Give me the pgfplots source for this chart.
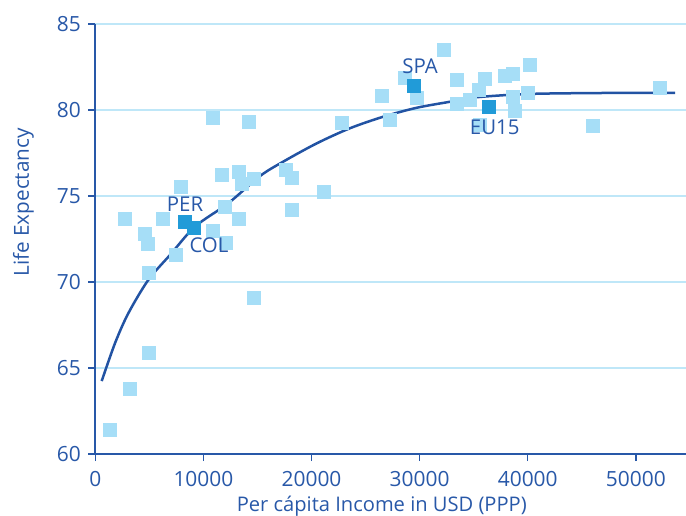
\documentclass[border=0pt]{standalone}
\usepackage{fontspec}
\setmainfont{Open Sans}
\usepackage{pgfplots}
\pgfplotsset{compat=1.18}

\definecolor{navy}{HTML}{2858A8}
\definecolor{gridblue}{HTML}{BFE7F8}
\definecolor{ptlight}{HTML}{A6DEF7}
\definecolor{ptdark}{HTML}{219BD8}
\definecolor{trend}{HTML}{2253A3}

\begin{document}
\begin{tikzpicture}
\path[use as bounding box] (-95.3bp,-62bp) rectangle (590.7bp,454bp);
\begin{axis}[
  scale only axis, width=590.7bp, height=430bp,
  xmin=0, xmax=54640, ymin=60, ymax=85,
  axis x line*=bottom, axis y line*=left,
  axis line style={navy, line width=2bp, -},
  xtick={0,10000,20000,30000,40000,50000},
  ytick={60,65,70,75,80,85},
  tick align=outside, major tick length=7bp,
  tick style={navy, line width=1.5bp},
  ymajorgrids, major grid style={gridblue, line width=1.5bp},
  scaled x ticks=false,
  /pgf/number format/.cd, 1000 sep={}, assume math mode=true, /pgfplots/.cd,
  ticklabel style={font=\fontsize{21}{21}\selectfont, text=navy},
  yticklabel style={xshift=-4bp},
  xticklabel style={yshift=-7bp},
  xlabel={Per cápita Income in USD (PPP)},
  ylabel={Life Expectancy},
  xlabel style={font=\fontsize{20.2}{20}\selectfont, text=navy,
    at={(axis description cs:0.485,-0.1326)}, anchor=base},
  ylabel style={font=\fontsize{20.8}{20}\selectfont, text=navy,
    at={(axis description cs:-0.1215,0.585)}, anchor=center},
  clip=false,
]
% fitted trend
\addplot[trend, line width=2.5bp, smooth, no marks] coordinates {
  (592,64.24) (1822,66.44) (3053,68.18) (4903,70.12) (6910,71.57)
  (9223,73.22) (12303,74.58) (15236,76.16) (17391,77.00) (20481,78.06)
  (23562,78.94) (26642,79.61) (29732,80.13) (32812,80.48) (34967,80.72)
  (38057,80.87) (41138,80.95) (47308,80.99) (53626,80.99)
};
% countries
\addplot[only marks, color=ptlight, mark=square*, mark size=6.5bp] coordinates {
  (10823,79.55) (14154,79.32) (22757,79.26) (27262,79.46) (26494,80.83)
  (7863,75.54) (11656,76.24) (13228,76.41) (13543,75.74) (14616,75.99)
  (17641,76.53) (18131,76.06) (21091,75.25) (18131,74.20) (11998,74.38)
  (13228,73.68) (2683,73.68) (6235,73.68) (4533,72.83) (4810,72.25)
  (10823,72.98) (12091,72.28) (7401,71.59) (4903,70.54) (14616,69.09)
  (4903,65.89) (3145,63.78) (1295,61.40) (32192,83.49) (28649,81.88)
  (29695,80.72) (33395,81.76) (35985,81.82) (35430,81.20) (37835,81.98)
  (38612,82.11) (40148,82.63) (33395,80.35) (34662,80.60) (38575,80.77)
  (39963,81.01) (38760,79.94) (45976,79.07) (52174,81.30) (35587,79.13)
};
% highlighted: PER, COL, SPA, EU15
\addplot[only marks, color=ptdark, mark=square*, mark size=6.5bp] coordinates {
  (8233,73.51) (9066,73.18) (29417,81.44) (36355,80.17)
};
\coordinate (perlab) at (axis cs:8298,74.07);
\coordinate (collab) at (axis cs:10518,71.69);
\coordinate (spalab) at (axis cs:30037,82.13);
\coordinate (eulab)  at (axis cs:36947,78.55);
\end{axis}
% country labels, set above the markers
\begin{scope}[every node/.style={font=\fontsize{20.5}{20}\selectfont, text=navy, anchor=base, inner sep=0pt}]
  \node at (perlab) {PER};
  \node at (collab) {COL};
  \node at (spalab) {SPA};
  \node at (eulab) {EU15};
\end{scope}
\end{tikzpicture}
\end{document}
